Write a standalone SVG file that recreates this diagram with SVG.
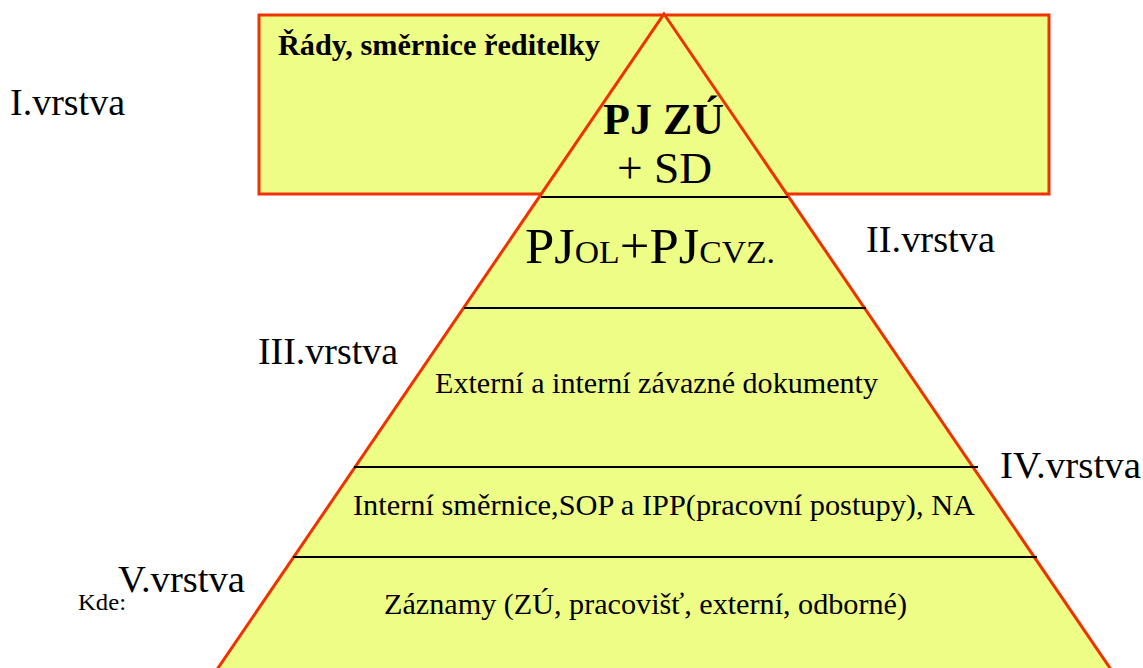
<svg xmlns="http://www.w3.org/2000/svg" width="1143" height="668" viewBox="0 0 1143 668">
<style>
.t{font-family:'Liberation Serif','DejaVu Serif',serif;fill:#000}
.lbl{font-size:37px}
.body{font-size:30px}
.red{stroke:#ee3300;stroke-width:3;fill:#edfd86}
.div{stroke:#000;stroke-width:1.8}
</style>
<rect width="1143" height="668" fill="#fff"/>
<g id="layer1-box">
<rect class="red" x="259" y="15" width="790" height="179"/>
<text class="t" x="278" y="55" font-size="30" font-weight="bold" textLength="322" lengthAdjust="spacingAndGlyphs">Řády, směrnice ředitelky</text>
</g>
<g id="pyramid">
<polygon class="red" points="664,14 1112,671 216,671"/>
</g>
<g id="connectors">
<line class="div" x1="541" y1="197" x2="788" y2="197"/>
<line class="div" x1="464" y1="308" x2="866" y2="308"/>
<line class="div" x1="354" y1="467" x2="978" y2="467"/>
<line class="div" x1="293" y1="557" x2="1037" y2="557"/>
</g>
<g id="n-pjzu">
<text class="t" x="603" y="134" font-size="44" font-weight="bold" textLength="121" lengthAdjust="spacingAndGlyphs">PJ ZÚ</text>
<text class="t" x="617" y="183" font-size="44" textLength="95" lengthAdjust="spacingAndGlyphs">+ SD</text>
</g>
<g id="n-pjol">
<text class="t" x="525" y="263" font-size="50" textLength="250" lengthAdjust="spacingAndGlyphs">PJ<tspan font-size="32">OL</tspan>+PJ<tspan font-size="32">CVZ.</tspan></text>
</g>
<g id="n-ext">
<text class="t body" x="435" y="393" textLength="443" lengthAdjust="spacingAndGlyphs">Externí a interní závazné dokumenty</text>
</g>
<g id="n-int">
<text class="t body" x="353" y="515" textLength="622" lengthAdjust="spacingAndGlyphs">Interní směrnice,SOP a IPP(pracovní postupy), NA</text>
</g>
<g id="n-zaz">
<text class="t body" x="384" y="614" textLength="523" lengthAdjust="spacingAndGlyphs">Záznamy (ZÚ, pracovišť, externí, odborné)</text>
</g>
<g id="labels">
<text class="t lbl" x="10" y="115" textLength="115" lengthAdjust="spacingAndGlyphs">I.vrstva</text>
<text class="t lbl" x="866" y="252" textLength="129" lengthAdjust="spacingAndGlyphs">II.vrstva</text>
<text class="t lbl" x="258" y="364" textLength="140" lengthAdjust="spacingAndGlyphs">III.vrstva</text>
<text class="t lbl" x="1000" y="478" textLength="141" lengthAdjust="spacingAndGlyphs">IV.vrstva</text>
<text class="t lbl" x="118" y="592" textLength="127" lengthAdjust="spacingAndGlyphs">V.vrstva</text>
<text class="t" x="78" y="610" font-size="24" textLength="48" lengthAdjust="spacingAndGlyphs">Kde:</text>
</g>
</svg>
